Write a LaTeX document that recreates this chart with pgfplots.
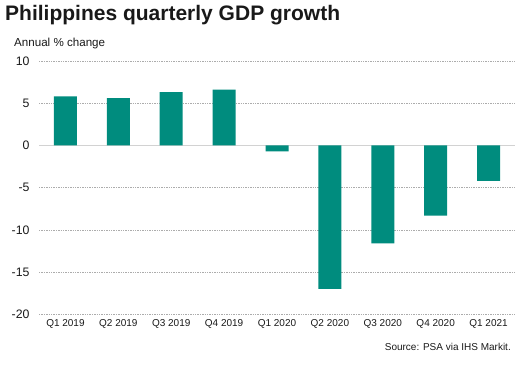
\documentclass[border=0pt]{standalone}
\usepackage{pgfplots}
\pgfplotsset{compat=1.18}
\usepackage{fontspec}
\setmainfont{Liberation Sans}
\definecolor{barc}{RGB}{0,140,126}
\definecolor{txt}{RGB}{25,25,25}
\begin{document}
\begin{tikzpicture}[x=1pt,y=1pt]
\path[use as bounding box] (0,0) rectangle (524,364);
\begin{axis}[
  at={(39pt,49.7pt)}, anchor=south west,
  scale only axis, width=476pt, height=253.3pt,
  xmin=-0.5, xmax=8.5, ymin=-20, ymax=10,
  axis line style={draw=none},
  major tick length=0pt,
  xtick={0,...,8},
  xticklabels={Q1 2019,Q2 2019,Q3 2019,Q4 2019,Q1 2020,Q2 2020,Q3 2020,Q4 2020,Q1 2021},
  ytick={-20,-15,-10,-5,5,10},
  extra y ticks={0},
  extra y tick style={grid style={solid, draw=gray!35, line width=0.8pt}},
  ymajorgrids,
  grid style={draw=gray!65, dash pattern=on 1.3pt off 1.1pt, line width=0.45pt},
  /pgf/number format/assume math mode=true,
  yticklabel style={font=\fontsize{12.3}{14}\selectfont, text=txt, xshift=-6pt},
  xticklabel style={font=\fontsize{10}{12}\selectfont, text=txt, yshift=-2pt},
  ybar, bar width=23pt,
]
\addplot[fill=barc, draw=none] coordinates {
(0,5.8) (1,5.6) (2,6.3) (3,6.6) (4,-0.7) (5,-17.0) (6,-11.6) (7,-8.3) (8,-4.2)};
\end{axis}
\node[anchor=base west, font=\fontsize{21}{24}\bfseries\selectfont, text=txt, inner sep=0] at (5,343) {Philippines quarterly GDP growth};
\node[anchor=base west, font=\fontsize{11.6}{13}\selectfont, text=txt, inner sep=0] at (14,317.3) {Annual \% change};
\node[anchor=base east, font=\fontsize{10}{12}\selectfont, text=txt, inner sep=0] at (511,14) {Source: PSA via IHS Markit.};
\end{tikzpicture}
\end{document}
